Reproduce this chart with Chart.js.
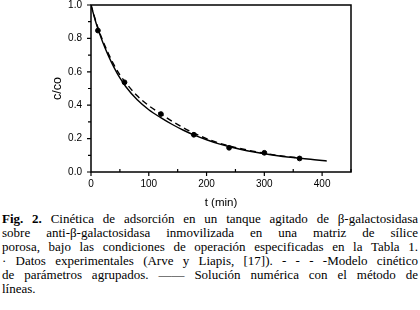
<!DOCTYPE html>
<html>
<head>
<meta charset="utf-8">
<script src="https://cdn.jsdelivr.net/npm/chart.js@4/dist/chart.umd.min.js"></script>
<style>
  html, body { margin: 0; padding: 0; background: #fff; }
  #wrap { width: 420px; height: 210px; position: relative; }
  #caption {
    font-family: 'Liberation Serif', 'Times New Roman', serif;
    font-size: 13px; line-height: 14.1px; color: #000;
    width: 416px; margin: 2px 0 0 2px;
  }
  #caption div { text-align: justify; text-align-last: justify; }
  #caption div.last { text-align-last: left; }
</style>
</head>
<body>
<div id="wrap"><canvas id="chart" width="420" height="210"></canvas></div>
<div id="caption">
  <div><b>Fig. 2.</b> Cinética de adsorción en un tanque agitado de β-galactosidasa</div>
  <div>sobre anti-β-galactosidasa inmovilizada en una matriz de sílice</div>
  <div>porosa, bajo las condiciones de operación especificadas en la Tabla 1.</div>
  <div>· Datos experimentales (Arve y Liapis, [17]). - - - -Modelo cinético</div>
  <div>de parámetros agrupados. —— Solución numérica con el método de</div>
  <div class="last">líneas.</div>
</div>
<script>
// --- datos ---
const expT = [12, 58, 121, 178, 239, 300, 361];
const expC = [0.847, 0.537, 0.347, 0.223, 0.145, 0.115, 0.081];

const modelT = [0, 10, 20, 30, 40, 50, 60, 80, 100, 120, 140, 160, 180, 200, 220, 240, 260, 280, 300, 320, 340, 360];
const modelC = [1.0, 0.885, 0.79, 0.71, 0.64, 0.582, 0.535, 0.456, 0.397, 0.35, 0.305, 0.265, 0.23, 0.2, 0.175, 0.155, 0.139, 0.125, 0.112, 0.101, 0.092, 0.084];

const numT = [0, 10, 20, 30, 40, 50, 60, 80, 100, 120, 140, 160, 180, 200, 220, 240, 260, 280, 300, 320, 340, 360, 380, 400, 408];
const numC = [1.0, 0.878, 0.78, 0.697, 0.625, 0.563, 0.512, 0.432, 0.373, 0.327, 0.286, 0.25, 0.219, 0.193, 0.17, 0.151, 0.135, 0.121, 0.109, 0.099, 0.09, 0.083, 0.076, 0.069, 0.066];

const xTicks = [0, 100, 200, 300, 400];
const yTicks = [0.0, 0.2, 0.4, 0.6, 0.8, 1.0];

const pts = (xs, ys) => xs.map((x, i) => ({ x: x, y: ys[i] }));

// marco y marcas de los ejes
const framePlugin = {
  id: 'frame',
  afterDraw(chart) {
    const { ctx, chartArea: a, scales: { x, y } } = chart;
    ctx.save();
    ctx.strokeStyle = '#000';
    ctx.lineWidth = 1.5;
    ctx.strokeRect(a.left, a.top, a.right - a.left, a.bottom - a.top);
    ctx.lineWidth = 1.2;
    ctx.beginPath();
    for (let v = 0; v <= 450; v += 50) {
      const px = x.getPixelForValue(v);
      if (v % 100 === 0) { ctx.moveTo(px, a.bottom); ctx.lineTo(px, a.bottom + 4); }
      else { ctx.moveTo(px, a.bottom); ctx.lineTo(px, a.bottom - 3); }
    }
    for (let i = 0; i <= 10; i++) {
      const py = y.getPixelForValue(i / 10);
      ctx.moveTo(a.left, py);
      ctx.lineTo(a.left - (i % 2 === 0 ? 4 : 3), py);
    }
    ctx.stroke();
    ctx.restore();
  }
};

new Chart(document.getElementById('chart'), {
  type: 'scatter',
  data: {
    datasets: [
      { data: pts(expT, expC), showLine: false, pointRadius: 2.4, pointBackgroundColor: '#000', pointBorderColor: '#000' },
      { data: pts(modelT, modelC), showLine: true, borderColor: '#000', borderWidth: 1.4, borderDash: [6, 4], pointRadius: 0, cubicInterpolationMode: 'monotone' },
      { data: pts(numT, numC), showLine: true, borderColor: '#000', borderWidth: 1.4, pointRadius: 0, cubicInterpolationMode: 'monotone' }
    ]
  },
  options: {
    responsive: false,
    animation: false,
    layout: { padding: { left: 0, right: 69, top: 3.5, bottom: 0 } },
    plugins: { legend: { display: false }, tooltip: { enabled: false } },
    scales: {
      x: {
        type: 'linear', min: 0, max: 450,
        afterBuildTicks: s => { s.ticks = xTicks.map(v => ({ value: v })); },
        afterFit: s => { s.height = 38; s.paddingLeft = 0; s.paddingRight = 0; },
        grid: { display: false, drawTicks: false },
        border: { display: false },
        ticks: { color: '#000', padding: 6, font: { family: 'Liberation Sans', size: 10 } },
        title: { display: true, text: 't (min)', color: '#000', padding: { top: 0, bottom: 0 }, font: { family: 'Liberation Sans', size: 11.5 } }
      },
      y: {
        min: 0, max: 1.0,
        afterBuildTicks: s => { s.ticks = yTicks.map(v => ({ value: v })); },
        afterFit: s => { s.width = 91; s.paddingTop = 0; s.paddingBottom = 0; },
        grid: { display: false, drawTicks: false },
        border: { display: false },
        ticks: { color: '#000', padding: 9, font: { family: 'Liberation Sans', size: 10 }, callback: v => v.toFixed(1) },
        title: { display: true, text: 'c/co', color: '#000', padding: { top: 50.5, bottom: 0 }, font: { family: 'Liberation Sans', size: 12.5 } }
      }
    }
  },
  plugins: [framePlugin]
});
</script>
</body>
</html>
